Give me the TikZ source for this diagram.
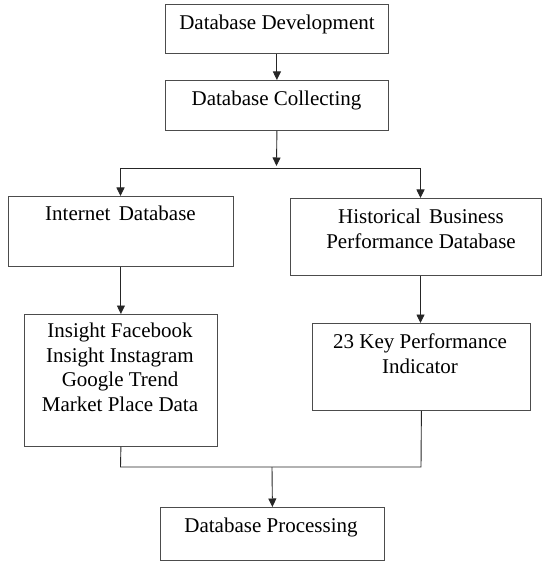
\documentclass[tikz,border=0pt]{standalone}
\usepackage{fontspec}
\setmainfont{Liberation Serif}
\usetikzlibrary{arrows.meta}
\begin{document}
\begin{tikzpicture}[x=1pt,y=-1pt,
  box/.style={draw=black!70,line width=0.8pt,rectangle,inner sep=0pt,anchor=north west},
  lbl/.style={font=\fontsize{21}{24.5}\selectfont,align=center,inner sep=0pt,anchor=base},
  conn/.style={draw=black!85,line width=0.9pt},
  arr/.style={conn,-{Triangle[length=8.5pt,width=8pt]}}]
\useasboundingbox (0,0) rectangle (544,561);
% boxes
\node[box,minimum width=223pt,minimum height=49pt] (b1) at (165,4) {};
\node[box,minimum width=223pt,minimum height=50pt] (b2) at (165,80) {};
\node[box,minimum width=225pt,minimum height=70pt] (b3) at (8,196) {};
\node[box,minimum width=251pt,minimum height=77pt] (b4) at (290,198) {};
\node[box,minimum width=193pt,minimum height=132pt] (b5) at (24,314) {};
\node[box,minimum width=218pt,minimum height=87pt] (b6) at (312,323) {};
\node[box,minimum width=224pt,minimum height=53pt] (b7) at (160,507) {};
% texts (anchor base = baseline of the last line)
\node[lbl] (t1) at (277,30) {Database Development};
\node[lbl] (t2) at (276.5,106) {Database Collecting};
\node[lbl] (t3) at (120.5,220.7) {Internet\hspace{3pt} Database};
\node[lbl] (t4) at (421,248) {Historical\hspace{3pt} Business\\Performance Database};
\node[lbl] (t5) at (120,411) {Insight Facebook\\Insight Instagram\\Google Trend\\Market Place Data};
\node[lbl] (t6) at (420,373) {23 Key Performance\\Indicator};
\node[lbl] (t7) at (271,532.7) {Database Processing};
% junctions
\coordinate (j1) at (276.5,166);
\coordinate (jl) at (120.5,168);
\coordinate (jr) at (420.5,168);
\coordinate (k1) at (120.5,467);
\coordinate (k2) at (421,467);
\coordinate (k3) at (272,467);
% connectors
\draw[arr] (b1.south) -- (b2.north);
\draw[arr] (b2.south) -- (j1);
\draw[conn] (jl) -- (jr);
\draw[arr] (jl) -- (jl |- b3.north);
\draw[arr] (jr) -- (jr |- b4.north);
\draw[arr] (b3.south) -- (b5.north);
\draw[arr] (jr |- b4.south) -- (jr |- b6.north);
\draw[conn] (b5.south) -- (k1) -- (k2) -- (b6.south);
\draw[arr] (k3) -- (b7.north);
\end{tikzpicture}
\end{document}
